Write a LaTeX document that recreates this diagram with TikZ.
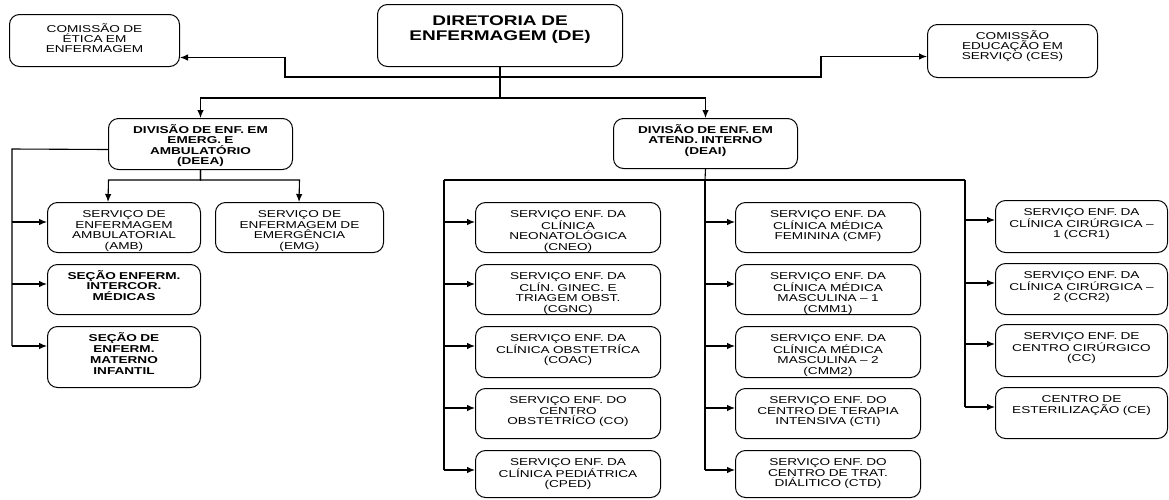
\documentclass[tikz,border=0pt]{standalone}
\usepackage{fontspec}
\setmainfont{Liberation Sans}[FakeStretch=1.36]
\usepackage{tikz}
\usetikzlibrary{arrows.meta}

\tikzset{
	caixa/.style={draw, line width=1pt, rounded corners=10pt, anchor=north west, align=center,
		inner xsep=0pt, inner ysep=3pt, text height=12pt, font=\fontsize{10}{10.6}\selectfont},
	negrito/.style={font=\fontsize{10}{10.4}\selectfont\bfseries},
	seta/.style={-{Latex[length=8pt,width=6.5pt]}},
	linha/.style={line width=1.1pt}
}

\begin{document}
\begin{tikzpicture}[x=1pt,y=-1pt]
	\useasboundingbox (0,0) rectangle (1169,499);

	% direcao e comissoes
	\node[caixa, text width=245pt, text height=18pt, text depth=38pt, font=\fontsize{14}{15}\selectfont\bfseries] (de) at (377,4)
	{DIRETORIA DE\\ENFERMAGEM (DE)};
	\node[caixa, text width=170pt, text height=15pt, text depth=31pt, font=\fontsize{10}{10}\selectfont] (etica) at (9,14)
	{COMISSÃO DE\\ÉTICA EM\\ENFERMAGEM};
	\node[caixa, text width=170pt, text depth=35pt, font=\fontsize{10}{10}\selectfont] (ces) at (927,24)
	{COMISSÃO\\EDUCAÇÃO EM\\SERVIÇO (CES)};

	% divisoes
	\node[caixa, negrito, text width=184pt, text depth=33pt] (deea) at (108,118)
	{DIVISÃO DE ENF. EM\\EMERG. E\\AMBULATÓRIO\\(DEEA)};
	\node[caixa, negrito, text width=184pt, text depth=32pt] (deai) at (613,118)
	{DIVISÃO DE ENF. EM\\ATEND. INTERNO\\(DEAI)};

	% ramo DEEA
	\node[caixa, text width=153pt, text depth=32pt] (amb) at (47,202)
	{SERVIÇO DE\\ENFERMAGEM\\AMBULATORIAL\\(AMB)};
	\node[caixa, text width=168pt, text depth=32pt] (emg) at (215,202)
	{SERVIÇO DE\\ENFERMAGEM DE\\EMERGÊNCIA\\(EMG)};
	\node[caixa, negrito, text width=153pt, text depth=32pt] (intercor) at (47,264)
	{SEÇÃO ENFERM.\\INTERCOR.\\MÉDICAS};
	\node[caixa, negrito, text width=153pt, text depth=43pt, font=\fontsize{10}{11}\selectfont\bfseries] (materno) at (47,326)
	{SEÇÃO DE\\ENFERM.\\MATERNO\\INFANTIL};

	% ramo DEAI, primeira coluna
	\node[caixa, text width=185pt, text depth=32pt] (cneo) at (475,202)
	{SERVIÇO ENF. DA\\CLÍNICA\\NEONATOLÓGICA\\(CNEO)};
	\node[caixa, text width=185pt, text depth=32pt] (cgnc) at (475,264)
	{SERVIÇO ENF. DA\\CLÍN. GINEC. E\\TRIAGEM OBST.\\(CGNC)};
	\node[caixa, text width=185pt, text depth=33pt] (coac) at (475,326)
	{SERVIÇO ENF. DA\\CLÍNICA OBSTETRÍCA\\(COAC)};
	\node[caixa, text width=185pt, text depth=32pt] (co) at (475,388)
	{SERVIÇO ENF. DO\\CENTRO\\OBSTETRÍCO (CO)};
	\node[caixa, text width=185pt, text depth=29pt] (cped) at (475,450)
	{SERVIÇO ENF. DA\\CLÍNICA PEDIÁTRICA\\(CPED)};

	% segunda coluna
	\node[caixa, text width=185pt, text depth=32pt] (cmf) at (735,202)
	{SERVIÇO ENF. DA\\CLÍNICA MÉDICA\\FEMININA (CMF)};
	\node[caixa, text width=185pt, text depth=32pt] (cmm1) at (735,264)
	{SERVIÇO ENF. DA\\CLÍNICA MÉDICA\\MASCULINA – 1\\(CMM1)};
	\node[caixa, text width=185pt, text depth=33pt] (cmm2) at (735,326)
	{SERVIÇO ENF. DA\\CLÍNICA MÉDICA\\MASCULINA – 2\\(CMM2)};
	\node[caixa, text width=185pt, text depth=32pt] (cti) at (735,388)
	{SERVIÇO ENF. DO\\CENTRO DE TERAPIA\\INTENSIVA (CTI)};
	\node[caixa, text width=185pt, text depth=29pt] (ctd) at (735,450)
	{SERVIÇO ENF. DO\\CENTRO DE TRAT.\\DIÁLITICO (CTD)};

	% terceira coluna
	\node[caixa, text width=172pt, text depth=34pt] (ccr1) at (995,200)
	{SERVIÇO ENF. DA\\CLÍNICA CIRÚRGICA –\\1 (CCR1)};
	\node[caixa, text width=172pt, text depth=33pt] (ccr2) at (995,263)
	{SERVIÇO ENF. DA\\CLÍNICA CIRÚRGICA –\\2 (CCR2)};
	\node[caixa, text width=172pt, text depth=34pt] (cc) at (995,324)
	{SERVIÇO ENF. DE\\CENTRO CIRÚRGICO\\(CC)};
	\node[caixa, text width=172pt, text depth=33pt] (ce) at (995,387)
	{CENTRO DE\\ESTERILIZAÇÃO (CE)};

	% ligacoes da direcao
	\draw[linha, seta] (de.south) |- ++(-215,10) |- ([yshift=-17pt]etica.east);
	\draw[linha, seta] (de.south) |- ++(321,10) |- ([yshift=-5.5pt]ces.west);
	\draw[linha, seta] (de.south) |- ++(-299.5,31) -- (deea.north);
	\draw[linha, seta] (de.south) |- ++(205.5,31) -- (deai.north);

	% ligacoes da DEEA
	\coordinate (eixoA) at (12,149);
	\draw[linha, seta] (deea.south) |- ++(-92,10) -- ([xshift=61pt]amb.north west);
	\draw[linha, seta] (deea.south) |- ++(99,10) -- ([xshift=84pt]emg.north west);
	\draw[linha] ([yshift=-5.5pt]deea.west) -- (eixoA) -- ([yshift=-20pt]eixoA |- materno.north west);
	\foreach \n in {amb,intercor,materno}
		\draw[linha, seta] ([yshift=-20pt]eixoA |- \n.north west) -- ([yshift=-20pt]\n.north west);

	% ligacoes da DEAI
	\coordinate (eixoB) at (444,180);
	\coordinate (eixoC) at (705,180);
	\coordinate (eixoD) at (965,180);
	\draw[linha] (deai.south) -- (eixoC);
	\draw[linha] (eixoB) -- (eixoD);
	\draw[linha] (eixoB) -- ([yshift=-20pt]eixoB |- cped.north west);
	\draw[linha] (eixoC) -- ([yshift=-20pt]eixoC |- ctd.north west);
	\draw[linha] (eixoD) -- ([yshift=-20pt]eixoD |- ce.north west);
	\foreach \n in {cneo,cgnc,coac,co,cped}
		\draw[linha, seta] ([yshift=-20pt]eixoB |- \n.north west) -- ([yshift=-20pt]\n.north west);
	\foreach \n in {cmf,cmm1,cmm2,cti,ctd}
		\draw[linha, seta] ([yshift=-20pt]eixoC |- \n.north west) -- ([yshift=-20pt]\n.north west);
	\foreach \n in {ccr1,ccr2,cc,ce}
		\draw[linha, seta] ([yshift=-20pt]eixoD |- \n.north west) -- ([yshift=-20pt]\n.north west);
\end{tikzpicture}
\end{document}
